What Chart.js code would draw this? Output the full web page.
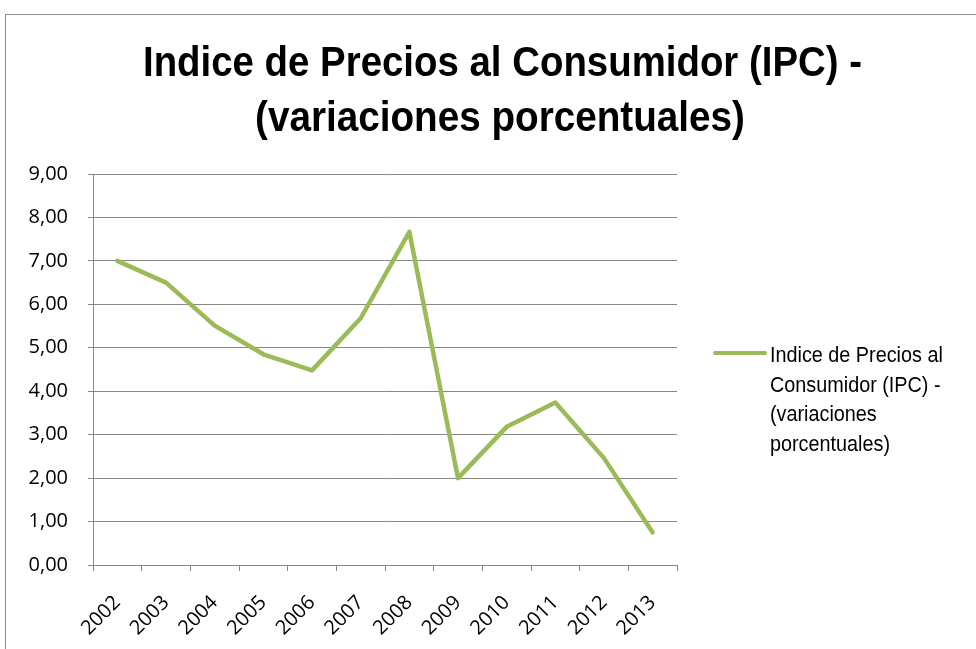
<!DOCTYPE html>
<html><head><meta charset="utf-8">
<script src="https://cdn.jsdelivr.net/npm/chart.js@4"></script>
<style>html,body{margin:0;padding:0;background:#fff;}#wrap{width:976px;height:649px;position:relative;}</style>
</head><body><div id="wrap"><canvas id="c" width="976" height="649"></canvas></div>
<script>
const titleLines = ["Indice de Precios al Consumidor (IPC) -", "(variaciones porcentuales)"];
const seriesName = "Indice de Precios al Consumidor (IPC) - (variaciones porcentuales)";
const legendLines = ["Indice de Precios al", "Consumidor (IPC) -", "(variaciones", "porcentuales)"];
const years = ["2002","2003","2004","2005","2006","2007","2008","2009","2010","2011","2012","2013"];
const ipc = [7.00, 6.50, 5.51, 4.85, 4.48, 5.68, 7.67, 2.00, 3.18, 3.74, 2.46, 0.75];

function drawScaled(ctx, text, cx, y, targetW) {
  const w = ctx.measureText(text).width;
  const s = targetW / w;
  ctx.save();
  ctx.translate(cx, y);
  ctx.scale(s, 1);
  ctx.textAlign = 'center';
  ctx.fillText(text, 0, 0);
  ctx.restore();
}

const decor = {
  id: 'decor',
  beforeDraw(chart) {
    const ctx = chart.ctx;
    ctx.save();
    ctx.fillStyle = '#fff';
    ctx.fillRect(0, 0, chart.width, chart.height);
    ctx.strokeStyle = '#8c8c8c';
    ctx.lineWidth = 1;
    ctx.strokeRect(5.5, 14.5, 1000, 700);
    ctx.fillStyle = '#000';
    ctx.font = 'bold 42px "Liberation Sans", Arial, sans-serif';
    ctx.textBaseline = 'alphabetic';
    drawScaled(ctx, titleLines[0], 502.5, 76, 719);
    drawScaled(ctx, titleLines[1], 500, 131, 490);
    ctx.restore();
  },
  afterDraw(chart) {
    const ctx = chart.ctx;
    const ds = chart.data.datasets[0];
    ctx.save();
    ctx.strokeStyle = ds.borderColor;
    ctx.lineWidth = 4;
    ctx.lineCap = 'round';
    ctx.beginPath();
    ctx.moveTo(715, 353);
    ctx.lineTo(765, 353);
    ctx.stroke();
    ctx.fillStyle = '#000';
    ctx.font = '22px "Liberation Sans", Arial, sans-serif';
    ctx.textBaseline = 'alphabetic';
    legendLines.forEach((t, i) => {
      ctx.save();
      ctx.translate(770, 362 + i * 29.5);
      ctx.scale(0.9, 1);
      ctx.fillText(t, 0, 0);
      ctx.restore();
    });
    ctx.restore();
  }
};

const tickFont = { family: '"Open Sans", "Noto Sans", sans-serif', size: 20 };

new Chart(document.getElementById('c'), {
  type: 'line',
  data: {
    labels: years,
    datasets: [{
      label: seriesName,
      data: ipc,
      borderColor: '#9BBB59',
      backgroundColor: '#9BBB59',
      borderWidth: 4.5,
      pointRadius: 0,
      tension: 0,
      borderJoinStyle: 'round',
      borderCapStyle: 'round'
    }]
  },
  options: {
    responsive: false,
    animation: false,
    devicePixelRatio: 1,
    layout: { padding: { top: 174, right: 299, left: 0, bottom: 0 } },
    plugins: { legend: { display: false }, title: { display: false }, tooltip: { enabled: false } },
    scales: {
      x: {
        offset: true,
        grid: { offset: true, drawOnChartArea: false, color: '#868686', tickLength: 6, lineWidth: 1 },
        border: { color: '#868686', width: 1 },
        ticks: { color: '#000', font: tickFont, minRotation: 45, maxRotation: 45, padding: 20 },
        afterFit(s) { s.height = 84; }
      },
      y: {
        min: 0, max: 9,
        ticks: { stepSize: 1, color: '#000', padding: 20, font: tickFont,
          callback: v => v.toFixed(2).replace('.', ',') },
        grid: { color: '#868686', tickLength: 5, lineWidth: 1 },
        border: { color: '#868686', width: 1 },
        afterFit(s) { s.width = 93; }
      }
    }
  },
  plugins: [decor]
});
</script></body></html>
